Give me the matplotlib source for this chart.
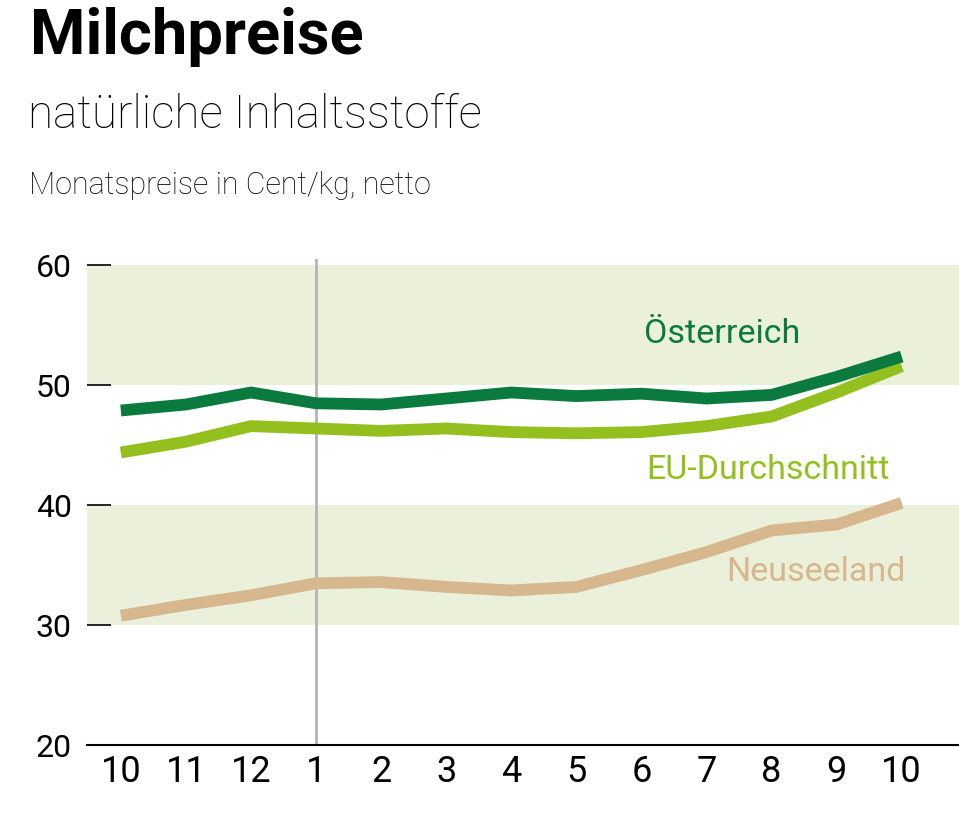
import matplotlib
matplotlib.use("Agg")
import matplotlib.pyplot as plt
from matplotlib import font_manager as fm

months = ["10", "11", "12", "1", "2", "3", "4", "5", "6", "7", "8", "9", "10"]
oesterreich = [47.9, 48.4, 49.4, 48.5, 48.4, 48.9, 49.4, 49.1, 49.3, 48.9, 49.2, 50.7, 52.4]
eu_durchschnitt = [44.4, 45.3, 46.6, 46.4, 46.2, 46.4, 46.1, 46.0, 46.1, 46.6, 47.4, 49.4, 51.6]
neuseeland = [30.8, 31.7, 32.5, 33.5, 33.6, 33.2, 32.9, 33.2, 34.6, 36.1, 37.9, 38.4, 40.2]
y_ticks = [20, 30, 40, 50, 60]
series_names = ["Österreich", "EU-Durchschnitt", "Neuseeland"]

available = {f.name for f in fm.fontManager.ttflist}
def pick(*names):
    for n in names:
        if n in available:
            return n
    return "DejaVu Sans"

title_font = pick("Liberation Sans Narrow", "Roboto", "Open Sans")
body_font = pick("Roboto", "Open Sans", "Lato")

c_at = "#0b7a3e"
c_eu = "#93c01f"
c_nz = "#d6b78e"
band = "#ebf0da"

fig = plt.figure(figsize=(9.59, 8.19), dpi=100)
ax = fig.add_axes([0.0907, 0.09, 0.9093, 0.5934])
x = list(range(len(months)))
ax.set_xlim(-0.52, 12.88)
ax.set_ylim(20, 60.5)

ax.axhspan(30, 40, color=band, lw=0, zorder=0)
ax.axhspan(50, 60, color=band, lw=0, zorder=0)
ax.axvline(3, ymin=0, ymax=1, color="#b4b4b4", lw=2, zorder=1)

for vals, col in [(neuseeland, c_nz), (eu_durchschnitt, c_eu), (oesterreich, c_at)]:
    ax.plot(x, vals, color=col, lw=8.5, solid_capstyle="butt",
            solid_joinstyle="miter", zorder=3)

for s in ["top", "right", "left"]:
    ax.spines[s].set_visible(False)
ax.spines["bottom"].set_color("black")
ax.spines["bottom"].set_linewidth(1.5)

ax.set_yticks(y_ticks)
ax.set_yticklabels([str(v) for v in y_ticks], fontsize=23, family=body_font)
ax.tick_params(axis="y", direction="in", length=17, width=1.2, pad=11, color="black")
ax.set_xticks(x)
ax.set_xticklabels(months, fontsize=26, family=body_font)
ax.tick_params(axis="x", length=0, pad=6)

ax.text(9.24, 54.3, series_names[0], color=c_at, fontsize=24.5, family=body_font,
        ha="center", va="center", zorder=4)
ax.text(9.94, 42.95, series_names[1], color=c_eu, fontsize=24.5, family=body_font,
        ha="center", va="center", zorder=4)
ax.text(10.68, 34.4, series_names[2], color=c_nz, fontsize=24.5, family=body_font,
        ha="center", va="center", zorder=4)

fig.text(0.031, 0.955, "Milchpreise", fontsize=45.5, fontweight="bold",
         family=title_font, ha="left", va="center")
fig.text(0.029, 0.859, "natürliche Inhaltsstoffe", fontsize=33, fontweight="light",
         family=body_font, ha="left", va="center")
fig.text(0.03, 0.773, "Monatspreise in Cent/kg, netto", fontsize=22, fontweight="light",
         family=body_font, ha="left", va="center")

fig.savefig("out.png", dpi=100)
